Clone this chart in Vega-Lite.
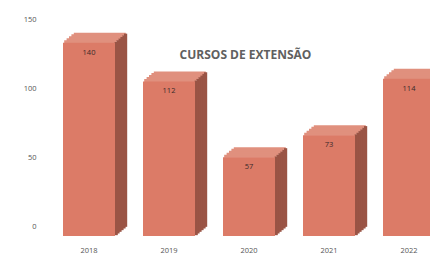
{
  "$schema": "https://vega.github.io/schema/vega-lite/v6.json",
  "width": 381,
  "height": 207,
  "autosize": "none",
  "padding": {"left": 49, "top": 19, "right": 0, "bottom": 28},
  "background": "white",
  "config": {"view": {"stroke": null}, "font": "Open Sans"},
  "title": {
    "text": "CURSOS DE EXTENSÃO",
    "anchor": "middle",
    "orient": "top",
    "baseline": "middle",
    "offset": 0,
    "dx": 6,
    "dy": 52,
    "fontSize": 12,
    "fontWeight": "bold",
    "color": "#606060",
    "font": "Open Sans"
  },
  "data": {
    "values": [
      {"ano": "2018", "valor": 140},
      {"ano": "2019", "valor": 112},
      {"ano": "2020", "valor": 57},
      {"ano": "2021", "valor": 73},
      {"ano": "2022", "valor": 114}
    ]
  },
  "encoding": {
    "x": {
      "field": "ano",
      "type": "nominal",
      "scale": {"paddingInner": 0, "paddingOuter": 0, "rangeMax": 400},
      "axis": {
        "title": null,
        "labelAngle": 0,
        "ticks": false,
        "domain": false,
        "labelPadding": 20,
        "labelFontSize": 7.5,
        "labelColor": "#555555"
      }
    },
    "y": {
      "field": "valor",
      "type": "quantitative",
      "scale": {"domain": [0, 150], "nice": false},
      "axis": {
        "title": null,
        "values": [0, 50, 100, 150],
        "ticks": false,
        "domain": false,
        "grid": false,
        "labelPadding": 13,
        "labelFontSize": 7.5,
        "labelColor": "#555555"
      }
    }
  },
  "layer": [
    {"mark": {"type": "bar", "width": 52, "color": "#e0907e", "xOffset": 1.2, "yOffset": 7.5, "y2Offset": 10.5}, "encoding": {"y2": {"field": "valor"}}},
    {"mark": {"type": "bar", "width": 52, "color": "#e0907e", "xOffset": 3.6, "yOffset": 5.5, "y2Offset": 8.5}, "encoding": {"y2": {"field": "valor"}}},
    {"mark": {"type": "bar", "width": 52, "color": "#e0907e", "xOffset": 6.0, "yOffset": 3.5, "y2Offset": 6.5}, "encoding": {"y2": {"field": "valor"}}},
    {"mark": {"type": "bar", "width": 52, "color": "#e0907e", "xOffset": 8.4, "yOffset": 1.5, "y2Offset": 4.5}, "encoding": {"y2": {"field": "valor"}}},
    {"mark": {"type": "bar", "width": 52, "color": "#e0907e", "xOffset": 10.8, "yOffset": 0, "y2Offset": 2.5}, "encoding": {"y2": {"field": "valor"}}},
    {"mark": {"type": "bar", "width": 3.2, "color": "#9a5445", "xOffset": 27.2, "yOffset": 9.17, "y2Offset": 9.17}},
    {"mark": {"type": "bar", "width": 3.2, "color": "#9a5445", "xOffset": 29, "yOffset": 7.5, "y2Offset": 7.5}},
    {"mark": {"type": "bar", "width": 3.2, "color": "#9a5445", "xOffset": 31, "yOffset": 5.83, "y2Offset": 5.83}},
    {"mark": {"type": "bar", "width": 3.2, "color": "#9a5445", "xOffset": 33, "yOffset": 4.17, "y2Offset": 4.17}},
    {"mark": {"type": "bar", "width": 3.2, "color": "#9a5445", "xOffset": 35, "yOffset": 2.5, "y2Offset": 2.5}},
    {"mark": {"type": "bar", "width": 3.2, "color": "#9a5445", "xOffset": 36.6, "yOffset": 0.83, "y2Offset": 0.83}},
    {"mark": {"type": "bar", "width": 52, "color": "#dc7b67", "yOffset": 10, "y2Offset": 10}},
    {
      "mark": {"type": "text", "dy": 20, "baseline": "middle", "fontSize": 7.5, "color": "#3a2a2a"},
      "encoding": {"text": {"field": "valor", "type": "quantitative"}}
    }
  ]
}
